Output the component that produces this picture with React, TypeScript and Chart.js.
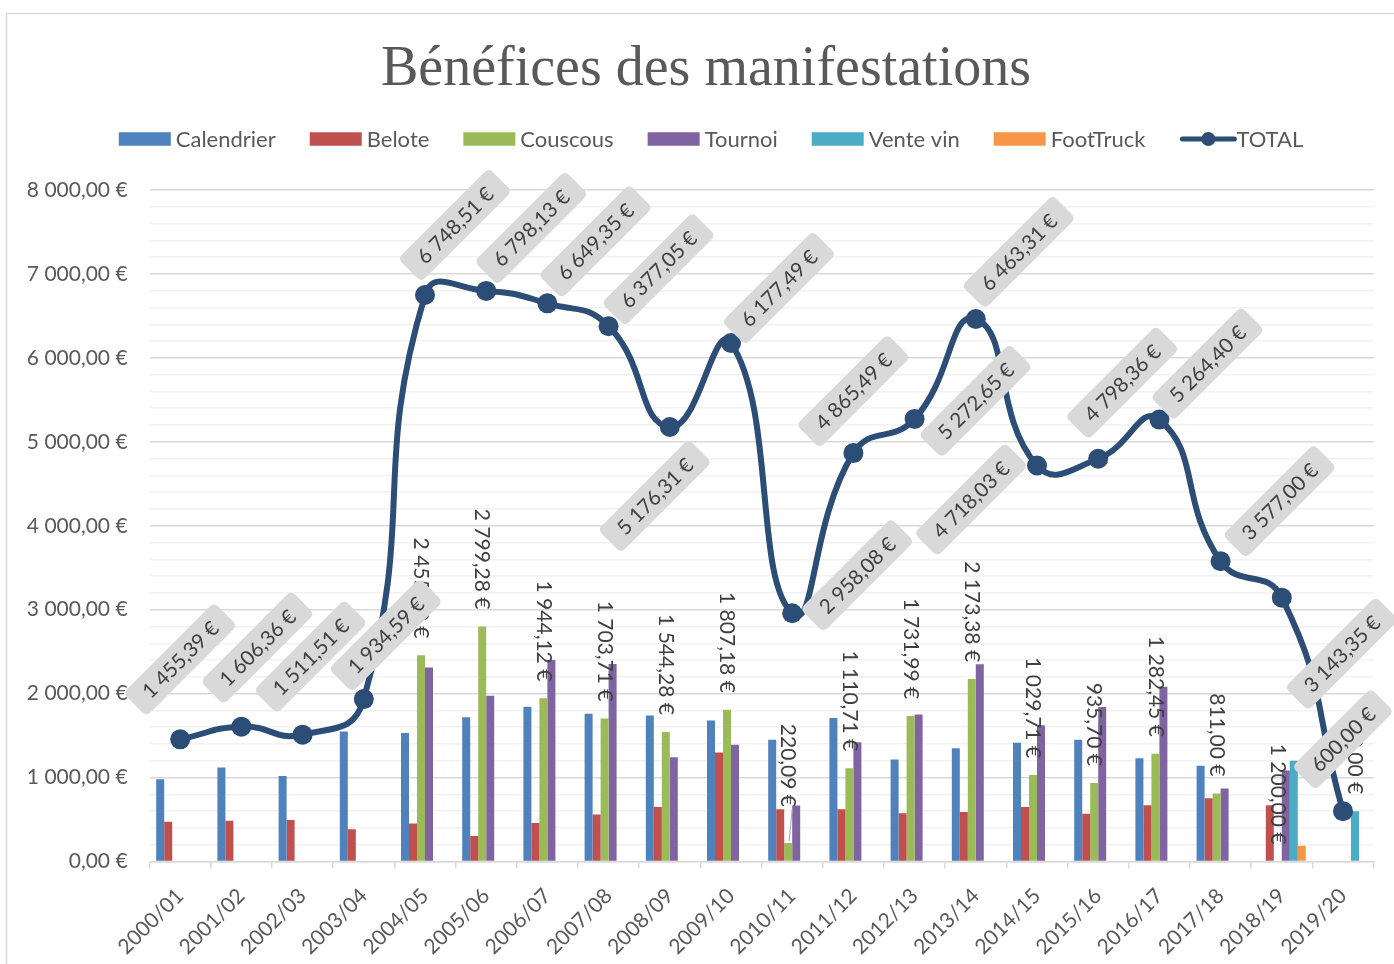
import React, { useEffect, useRef } from "react";
import { Chart, registerables } from "chart.js";

Chart.register(...registerables);

const categories = [
  "2000/01", "2001/02", "2002/03", "2003/04", "2004/05", "2005/06", "2006/07",
  "2007/08", "2008/09", "2009/10", "2010/11", "2011/12", "2012/13", "2013/14",
  "2014/15", "2015/16", "2016/17", "2017/18", "2018/19", "2019/20",
];

const calendrier = [980, 1120, 1018, 1550, 1530, 1720, 1845, 1760, 1740, 1680, 1450, 1710, 1215, 1350, 1415, 1450, 1230, 1140, 0, 0];
const belote = [475, 486, 493, 385, 452, 305, 460, 560, 650, 1300, 622, 622, 575, 590, 650, 570, 670, 755, 670, 0];
const couscous = [0, 0, 0, 0, 2455.8, 2799.28, 1944.12, 1703.71, 1544.28, 1807.18, 220.09, 1110.71, 1731.99, 2173.38, 1029.71, 935.7, 1282.45, 811.0, 0, 0];
const tournoi = [0, 0, 0, 0, 2310, 1974, 2400, 2353, 1242, 1390, 666, 1422, 1750, 2350, 1623, 1842, 2082, 871, 1085, 0];
const venteVin = [0, 0, 0, 0, 0, 0, 0, 0, 0, 0, 0, 0, 0, 0, 0, 0, 0, 0, 1200, 600];
const footTruck = [0, 0, 0, 0, 0, 0, 0, 0, 0, 0, 0, 0, 0, 0, 0, 0, 0, 0, 188, 0];
const total = [1455.39, 1606.36, 1511.51, 1934.59, 6748.51, 6798.13, 6649.35, 6377.05, 5176.31, 6177.49, 2958.08, 4865.49, 5272.65, 6463.31, 4718.03, 4798.36, 5264.4, 3577.0, 3143.35, 600.0];

// vertical value labels shown over the bars (series index 2 = Couscous, 4 = Vente vin)
const couscousLabels = [null, null, null, null, 2455.8, 2799.28, 1944.12, 1703.71, 1544.28, 1807.18, 220.09, 1110.71, 1731.99, 2173.38, 1029.71, 935.7, 1282.45, 811.0, 1200.0, null];
const venteVinLabels = [null, null, null, null, null, null, null, null, null, null, null, null, null, null, null, null, null, null, null, 600.0];

const yTicksMax = 8000;
const yMinorStep = 200;
const yMajorStep = 1000;

// layout (not data): offsets of the TOTAL callouts from their points
const totalLabelOffsets: [number, number][] = [
  [0, -80], [16, -79], [8, -78], [22, -64], [30, -70], [45, -63], [48, -62], [50, -57],
  [-15, 69], [48, -55], [65, -38], [0, -62], [61, -18], [43, -67], [-66, 34], [24, -76],
  [48, -56], [59, -60], [60, 56], [0, -72],
];
const barLabelShift = [0, 0, 0, 0, 0, 0, 0, 0, 0, 0, -19, 0, 0, 0, 0, 0, 0, 0, 0, 0];

const COLORS = ["#4F81BD", "#C0504D", "#9BBB59", "#8064A2", "#4BACC6", "#F79646"];
const LINE_COLOR = "#2C4D75";
const FONT = "Lato, 'Liberation Sans', sans-serif";

function fmt(v: number): string {
  const [ip, dp] = v.toFixed(2).split(".");
  const withSp = ip.replace(/\B(?=(\d{3})+(?!\d))/g, " ");
  return `${withSp},${dp} €`;
}

function roundRect(ctx: CanvasRenderingContext2D, x: number, y: number, w: number, h: number, r: number) {
  ctx.beginPath();
  ctx.moveTo(x + r, y);
  ctx.lineTo(x + w - r, y);
  ctx.quadraticCurveTo(x + w, y, x + w, y + r);
  ctx.lineTo(x + w, y + h - r);
  ctx.quadraticCurveTo(x + w, y + h, x + w - r, y + h);
  ctx.lineTo(x + r, y + h);
  ctx.quadraticCurveTo(x, y + h, x, y + h - r);
  ctx.lineTo(x, y + r);
  ctx.quadraticCurveTo(x, y, x + r, y);
  ctx.closePath();
}

const seriesNames = ["Calendrier", "Belote", "Couscous", "Tournoi", "Vente vin", "FootTruck"];

const decorPlugin = {
  id: "decor",
  beforeDraw(chart: any) {
    const ctx = chart.ctx as CanvasRenderingContext2D;
    ctx.save();
    ctx.fillStyle = "#ffffff";
    ctx.fillRect(0, 0, chart.width, chart.height);
    ctx.strokeStyle = "#D9D9D9";
    ctx.lineWidth = 1.5;
    ctx.strokeRect(6.5, 13.5, chart.width + 20, chart.height + 20);
    // title
    ctx.fillStyle = "#595959";
    ctx.font = "56px 'Liberation Serif', serif";
    ctx.textAlign = "center";
    ctx.textBaseline = "alphabetic";
    ctx.fillText("Bénéfices des manifestations", 706, 85);
    // legend
    ctx.font = `22px ${FONT}`;
    const boxW = 52, boxH = 13.5, gapText = 5, gapItem = 34;
    const items = [...seriesNames, "TOTAL"];
    let totalW = 0;
    const widths = items.map((t) => ctx.measureText(t).width);
    items.forEach((_, i) => {
      totalW += boxW + gapText + widths[i] + (i < items.length - 1 ? gapItem : 0);
    });
    let x = 711 - totalW / 2;
    const cy = 139;
    items.forEach((t, i) => {
      if (i < 6) {
        ctx.fillStyle = COLORS[i];
        ctx.fillRect(x, cy - boxH / 2, boxW, boxH);
      } else {
        ctx.strokeStyle = LINE_COLOR;
        ctx.lineWidth = 5;
        ctx.lineCap = "round";
        ctx.beginPath();
        ctx.moveTo(x + 3, cy);
        ctx.lineTo(x + boxW + 3, cy);
        ctx.stroke();
        ctx.fillStyle = LINE_COLOR;
        ctx.beginPath();
        ctx.arc(x + boxW / 2 + 3, cy, 7, 0, Math.PI * 2);
        ctx.fill();
      }
      ctx.fillStyle = "#595959";
      ctx.textAlign = "left";
      ctx.textBaseline = "middle";
      ctx.fillText(t, x + boxW + gapText, cy + 1);
      x += boxW + gapText + widths[i] + gapItem;
    });
    ctx.restore();
  },
  afterDatasetsDraw(chart: any) {
    const ctx = chart.ctx as CanvasRenderingContext2D;
    ctx.save();
    // vertical bar labels
    ctx.font = `21px ${FONT}`;
    ctx.fillStyle = "#404040";
    const drawBarLabel = (dsIndex: number, i: number, v: number) => {
      const el = chart.getDatasetMeta(dsIndex).data[i];
      const endY = el.y - 17 + barLabelShift[i];
      ctx.save();
      ctx.translate(el.x, endY);
      ctx.rotate(Math.PI / 2);
      ctx.textAlign = "right";
      ctx.textBaseline = "middle";
      ctx.fillText(fmt(v), 0, 0);
      ctx.restore();
      if (barLabelShift[i] !== 0) {
        ctx.strokeStyle = "#A6A6A6";
        ctx.lineWidth = 1;
        ctx.beginPath();
        ctx.moveTo(el.x + 4, endY + 2);
        ctx.lineTo(el.x + 1, el.y - 2);
        ctx.stroke();
      }
    };
    couscousLabels.forEach((v, i) => { if (v != null) drawBarLabel(2, i, v); });
    venteVinLabels.forEach((v, i) => { if (v != null) drawBarLabel(4, i, v); });

    // TOTAL callouts
    const meta = chart.getDatasetMeta(6);
    ctx.font = `20.5px ${FONT}`;
    meta.data.forEach((p: any, i: number) => {
      const [ox, oy] = totalLabelOffsets[i];
      const txt = fmt(total[i]);
      const w = ctx.measureText(txt).width + 30;
      const h = 33;
      ctx.save();
      ctx.translate(p.x + ox, p.y + oy);
      ctx.rotate(-Math.PI / 4);
      ctx.fillStyle = "#D9D9D9";
      roundRect(ctx, -w / 2, -h / 2, w, h, 6);
      ctx.fill();
      ctx.fillStyle = "#404040";
      ctx.textAlign = "center";
      ctx.textBaseline = "middle";
      ctx.fillText(txt, 0, 1);
      ctx.restore();
    });
    ctx.restore();
  },
};

export default function App() {
  const canvasRef = useRef<HTMLCanvasElement | null>(null);

  useEffect(() => {
    document.body.style.margin = "0";
    document.body.style.overflow = "hidden";
    const canvas = canvasRef.current;
    if (!canvas) return;
    const barSets = [calendrier, belote, couscous, tournoi, venteVin, footTruck].map((d, i) => ({
      type: "bar" as const,
      label: seriesNames[i],
      data: d,
      backgroundColor: COLORS[i],
      borderWidth: 0,
      categoryPercentage: 0.784,
      barPercentage: 1.0,
      order: 2,
    }));
    const chart = new Chart(canvas, {
      type: "bar",
      data: {
        labels: categories,
        datasets: [
          ...barSets,
          {
            type: "line" as const,
            label: "TOTAL",
            data: total,
            borderColor: LINE_COLOR,
            backgroundColor: LINE_COLOR,
            borderWidth: 6,
            tension: 0.5,
            pointRadius: 10,
            pointBorderWidth: 0,
            pointBackgroundColor: LINE_COLOR,
            order: 0,
          } as any,
        ],
      },
      options: {
        responsive: false,
        animation: false,
        devicePixelRatio: 1,
        layout: { padding: { top: 190, left: 0, right: 20.4, bottom: 0 } },
        plugins: {
          legend: { display: false },
          title: { display: false },
          tooltip: { enabled: false },
        },
        scales: {
          x: {
            offset: true,
            grid: {
              offset: true,
              drawOnChartArea: false,
              drawTicks: true,
              tickLength: 7,
              color: "#D9D9D9",
              lineWidth: 1.5,
            },
            border: { display: true, color: "#D9D9D9", width: 1.5 },
            ticks: {
              autoSkip: false,
              maxRotation: 45,
              minRotation: 45,
              padding: 15,
              color: "#595959",
              font: { family: FONT, size: 21 },
            },
            afterFit: (s: any) => { s.height = 102.5; },
          },
          y: {
            min: 0,
            max: yTicksMax,
            grid: {
              drawTicks: false,
              color: (c: any) => (c.tick && c.tick.value % yMajorStep === 0 ? "#D9D9D9" : "#F2F2F2"),
              lineWidth: 1.5,
            },
            border: { display: false },
            ticks: {
              stepSize: yMinorStep,
              maxTicksLimit: 100,
              autoSkip: false,
              padding: 22,
              color: "#595959",
              font: { family: FONT, size: 21 },
              callback: (v: any) => (Number(v) % yMajorStep === 0 ? fmt(Number(v)) : ""),
            },
            afterFit: (s: any) => { s.width = 149.6; },
          },
        },
      },
      plugins: [decorPlugin],
    });
    return () => chart.destroy();
  }, []);

  return (
    <div style={{ position: "absolute", left: 0, top: 0, width: 1394, height: 964 }}>
      <canvas ref={canvasRef} width={1394} height={964} />
    </div>
  );
}
